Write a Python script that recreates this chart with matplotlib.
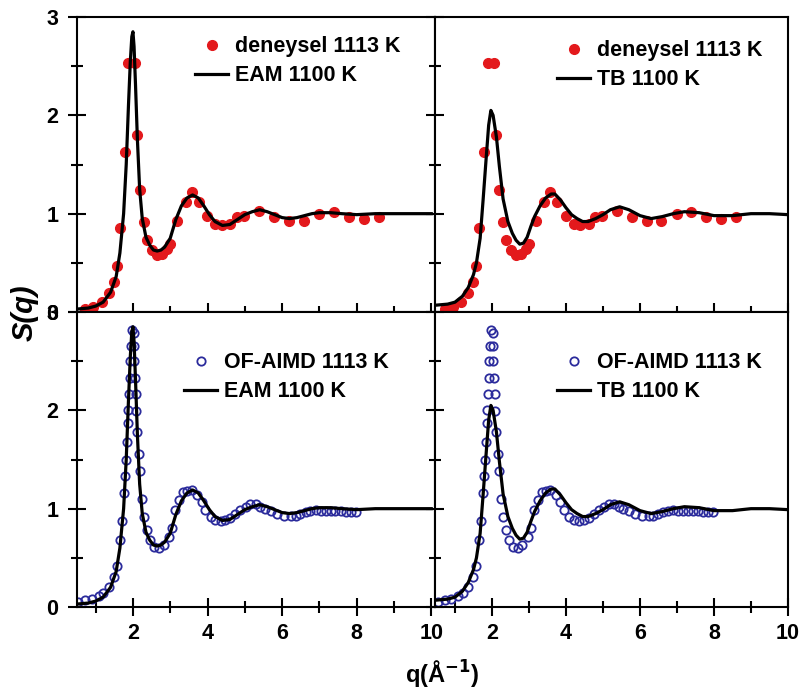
import numpy as np
import matplotlib.pyplot as plt
from matplotlib.ticker import MultipleLocator

plt.rcParams['font.family'] = ['Liberation Sans', 'DejaVu Sans']
plt.rcParams['font.weight'] = 'bold'

# experimental S(q), 1113 K
exp_q = [0.72, 0.94, 1.17, 1.35, 1.48, 1.57, 1.66, 1.79, 1.88, 2.06, 2.11, 2.20, 2.29,
         2.38, 2.51, 2.64, 2.78, 2.91, 3.00, 3.18, 3.41, 3.58, 3.76, 3.99, 4.21, 4.39,
         4.61, 4.79, 4.97, 5.38, 5.78, 6.18, 6.58, 6.99, 7.39, 7.79, 8.20, 8.60]
exp_s = [0.03, 0.05, 0.10, 0.19, 0.31, 0.47, 0.85, 1.63, 2.53, 2.53, 1.80, 1.24, 0.92,
         0.73, 0.63, 0.58, 0.59, 0.64, 0.69, 0.93, 1.12, 1.22, 1.12, 0.98, 0.90, 0.88,
         0.90, 0.97, 0.98, 1.03, 0.97, 0.93, 0.93, 1.00, 1.02, 0.97, 0.95, 0.97]

# OF-AIMD 1113 K
aimd_q = [0.54, 0.72, 0.90, 1.08, 1.21, 1.35, 1.48, 1.57, 1.64, 1.70, 1.77, 1.79, 1.82,
          1.84, 1.86, 1.87, 1.89, 1.91, 1.93, 1.95, 1.97, 2.02, 2.04, 2.04, 2.06, 2.08,
          2.09, 2.11, 2.15, 2.20, 2.24, 2.30, 2.38, 2.47, 2.56, 2.69, 2.82, 2.96, 3.05,
          3.14, 3.24, 3.34, 3.45, 3.58, 3.72, 3.84, 3.94, 4.08, 4.21, 4.35, 4.48, 4.61,
          4.75, 4.88, 5.02, 5.15, 5.29, 5.42, 5.55, 5.69, 5.87, 6.05, 6.23, 6.36, 6.49,
          6.63, 6.76, 6.90, 7.03, 7.17, 7.30, 7.43, 7.57, 7.70, 7.84, 7.97]
aimd_s = [0.05, 0.07, 0.08, 0.11, 0.14, 0.20, 0.31, 0.42, 0.68, 0.87, 1.16, 1.33, 1.50,
          1.68, 1.87, 2.00, 2.17, 2.33, 2.50, 2.65, 2.82, 2.79, 2.65, 2.50, 2.33, 2.17,
          1.99, 1.78, 1.56, 1.38, 1.10, 0.92, 0.78, 0.68, 0.61, 0.60, 0.63, 0.71, 0.80,
          0.99, 1.09, 1.17, 1.18, 1.19, 1.14, 1.07, 0.99, 0.92, 0.88, 0.87, 0.88, 0.91,
          0.95, 0.99, 1.02, 1.05, 1.05, 1.02, 1.00, 0.98, 0.95, 0.93, 0.93, 0.93, 0.95,
          0.97, 0.98, 0.99, 0.98, 0.98, 0.98, 0.98, 0.98, 0.97, 0.97, 0.97]

# EAM 1100 K
eam_q = [0.5, 0.8, 1.0, 1.2, 1.4, 1.55, 1.65, 1.75, 1.82, 1.88, 1.93, 1.97, 2.0, 2.03,
         2.07, 2.12, 2.18, 2.25, 2.35, 2.45, 2.55, 2.65, 2.75, 2.85, 3.0, 3.15, 3.3, 3.45,
         3.6, 3.75, 3.9, 4.05, 4.2, 4.4, 4.6, 4.8, 5.0, 5.2, 5.4, 5.6, 5.8, 6.0, 6.2, 6.4,
         6.6, 6.8, 7.0, 7.3, 7.6, 8.0, 8.5, 9.0, 9.5, 10.0]
eam_s = [0.03, 0.04, 0.06, 0.10, 0.20, 0.36, 0.60, 1.00, 1.50, 2.10, 2.55, 2.80, 2.85,
         2.70, 2.30, 1.75, 1.25, 0.95, 0.76, 0.68, 0.63, 0.62, 0.63, 0.66, 0.75, 0.94,
         1.08, 1.16, 1.19, 1.16, 1.08, 0.99, 0.92, 0.88, 0.89, 0.94, 0.99, 1.02, 1.04,
         1.02, 0.99, 0.96, 0.95, 0.96, 0.98, 1.00, 1.01, 1.01, 1.00, 0.99, 1.00, 1.00,
         1.00, 1.00]

# TB 1100 K
tb_q = [0.5, 0.8, 1.0, 1.2, 1.36, 1.5, 1.58, 1.68, 1.76, 1.84, 1.91, 1.97, 2.03, 2.12,
        2.2, 2.3, 2.43, 2.55, 2.65, 2.75, 2.85, 2.95, 3.05, 3.15, 3.3, 3.45, 3.6, 3.7,
        3.85, 4.0, 4.15, 4.3, 4.45, 4.6, 4.8, 5.0, 5.2, 5.45, 5.7, 6.0, 6.3, 6.6, 6.9,
        7.2, 7.6, 8.0, 8.5, 9.0, 9.5, 10.0]
tb_s = [0.07, 0.08, 0.10, 0.16, 0.25, 0.38, 0.50, 0.75, 1.14, 1.55, 1.90, 2.05, 2.00,
        1.78, 1.48, 1.15, 0.92, 0.80, 0.73, 0.69, 0.70, 0.76, 0.87, 0.97, 1.08, 1.16,
        1.20, 1.20, 1.14, 1.06, 0.99, 0.95, 0.92, 0.92, 0.95, 0.99, 1.04, 1.07, 1.04,
        0.98, 0.95, 0.97, 1.00, 1.02, 1.01, 0.98, 0.98, 1.00, 1.00, 0.99]

red = '#e3191c'
blue = '#2b2b9c'

fig = plt.figure(figsize=(8.02, 6.91), dpi=100)
W, H = 802.0, 691.0
ax_tl = fig.add_axes([77/W, 1-312/H, 358/W, 295/H])
ax_tr = fig.add_axes([435/W, 1-312/H, 353/W, 295/H])
ax_bl = fig.add_axes([77/W, 1-607/H, 358/W, 295/H])
ax_br = fig.add_axes([435/W, 1-607/H, 353/W, 295/H])

panels = [
    (ax_tl, 'exp', eam_q, eam_s, 'EAM 1100 K', (0.33, 0.934)),
    (ax_tr, 'exp', tb_q, tb_s, 'TB 1100 K', (0.346, 0.921)),
    (ax_bl, 'aimd', eam_q, eam_s, 'EAM 1100 K', (0.30, 0.863)),
    (ax_br, 'aimd', tb_q, tb_s, 'TB 1100 K', (0.346, 0.863)),
]

for ax, kind, lq, ls, lname, anchor in panels:
    if kind == 'exp':
        ax.plot(exp_q, exp_s, 'o', color=red, ms=7, mec=red, label='deneysel 1113 K',
                zorder=2, clip_on=False)
    else:
        ax.plot(aimd_q, aimd_s, 'o', mfc='none', mec=blue, mew=1.3, ms=6,
                label='OF-AIMD 1113 K', zorder=2)
    ax.plot(lq, ls, '-', color='black', lw=2.3, label=lname, zorder=3)
    ax.set_ylim(0, 3)
    ax.xaxis.set_major_locator(MultipleLocator(2))
    ax.xaxis.set_minor_locator(MultipleLocator(1))
    ax.yaxis.set_major_locator(MultipleLocator(1))
    ax.yaxis.set_minor_locator(MultipleLocator(0.5))
    ax.tick_params(which='both', direction='inout', top=False, right=False,
                   width=1.5, labelsize=15.5)
    ax.tick_params(which='major', length=13)
    ax.tick_params(which='minor', length=8)
    ax.tick_params(axis='y', pad=7)
    ax.tick_params(axis='x', pad=5)
    for sp in ax.spines.values():
        sp.set_linewidth(1.5)
    for lab in ax.get_xticklabels() + ax.get_yticklabels():
        lab.set_fontweight('bold')
    ax.legend(loc='upper left', bbox_to_anchor=anchor, frameon=False,
              handlelength=1.53, handletextpad=0.33, borderpad=0, borderaxespad=0,
              labelspacing=0.36, prop={'weight': 'bold', 'size': 15.5})

ax_tl.set_xlim(0.5, 10.1)
ax_bl.set_xlim(0.5, 10.1)
ax_tr.set_xlim(0.46, 10.0)
ax_br.set_xlim(0.46, 10.0)

ax_tl.tick_params(labelbottom=False)
ax_tr.tick_params(labelbottom=False, labelleft=False)
ax_br.tick_params(labelleft=False)

for ax in (ax_bl, ax_br):
    ax.set_xticks([2, 4, 6, 8, 10])

fig.text(0.031, 0.547, 'S(q)', rotation=90, ha='center', va='center',
         fontsize=21, fontstyle='italic', fontweight='bold')
fig.text(0.552, 0.024, 'q(Å$^{\\mathbf{-1}}$)', ha='center', va='center',
         fontsize=17, fontweight='bold')

fig.savefig('out.png', dpi=100)
